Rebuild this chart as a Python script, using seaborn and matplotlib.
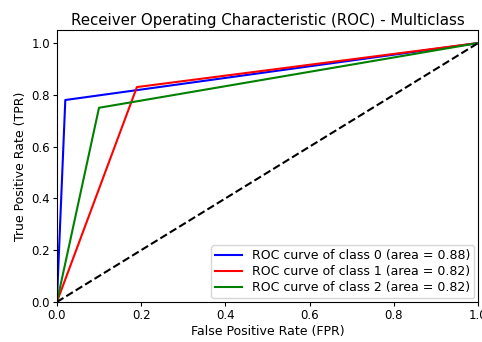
"""ROC curves for a three-class classifier."""
import matplotlib
matplotlib.use("Agg")
import matplotlib.pyplot as plt
import pandas as pd
import seaborn as sns

classes = [0, 1, 2]
fpr = [
    [0.0, 0.02, 1.0],
    [0.0, 0.19, 1.0],
    [0.0, 0.10, 1.0],
]
tpr = [
    [0.0, 0.78, 1.0],
    [0.0, 0.83, 1.0],
    [0.0, 0.75, 1.0],
]
areas = [0.88, 0.82, 0.82]
colors = ["blue", "red", "green"]

fig = plt.figure(figsize=(4.82, 3.42), dpi=100)
ax = fig.add_axes([0.118, 0.117, 0.874, 0.795])

for c, x, y, a, col in zip(classes, fpr, tpr, areas, colors):
    df = pd.DataFrame({"fpr": x, "tpr": y})
    sns.lineplot(
        data=df,
        x="fpr",
        y="tpr",
        sort=False,
        color=col,
        lw=1.5,
        label=f"ROC curve of class {c} (area = {a:.2f})",
        ax=ax,
    )

# chance line
ax.plot([0, 1], [0, 1], "k--", lw=1.5)

ax.set_xlim(0.0, 1.0)
ax.set_ylim(0.0, 1.05)
ax.set_xlabel("False Positive Rate (FPR)", fontsize=9, labelpad=2)
ax.set_ylabel("True Positive Rate (TPR)", fontsize=9, labelpad=3)
ax.set_title("Receiver Operating Characteristic (ROC) - Multiclass",
             fontsize=10.8, pad=4)
ax.tick_params(labelsize=8.5, length=3, pad=2)
ax.legend(loc="lower right", fontsize=9, handlelength=2.2,
          borderpad=0.3, labelspacing=0.25, borderaxespad=0.3)

fig.savefig("out.png", dpi=100)
